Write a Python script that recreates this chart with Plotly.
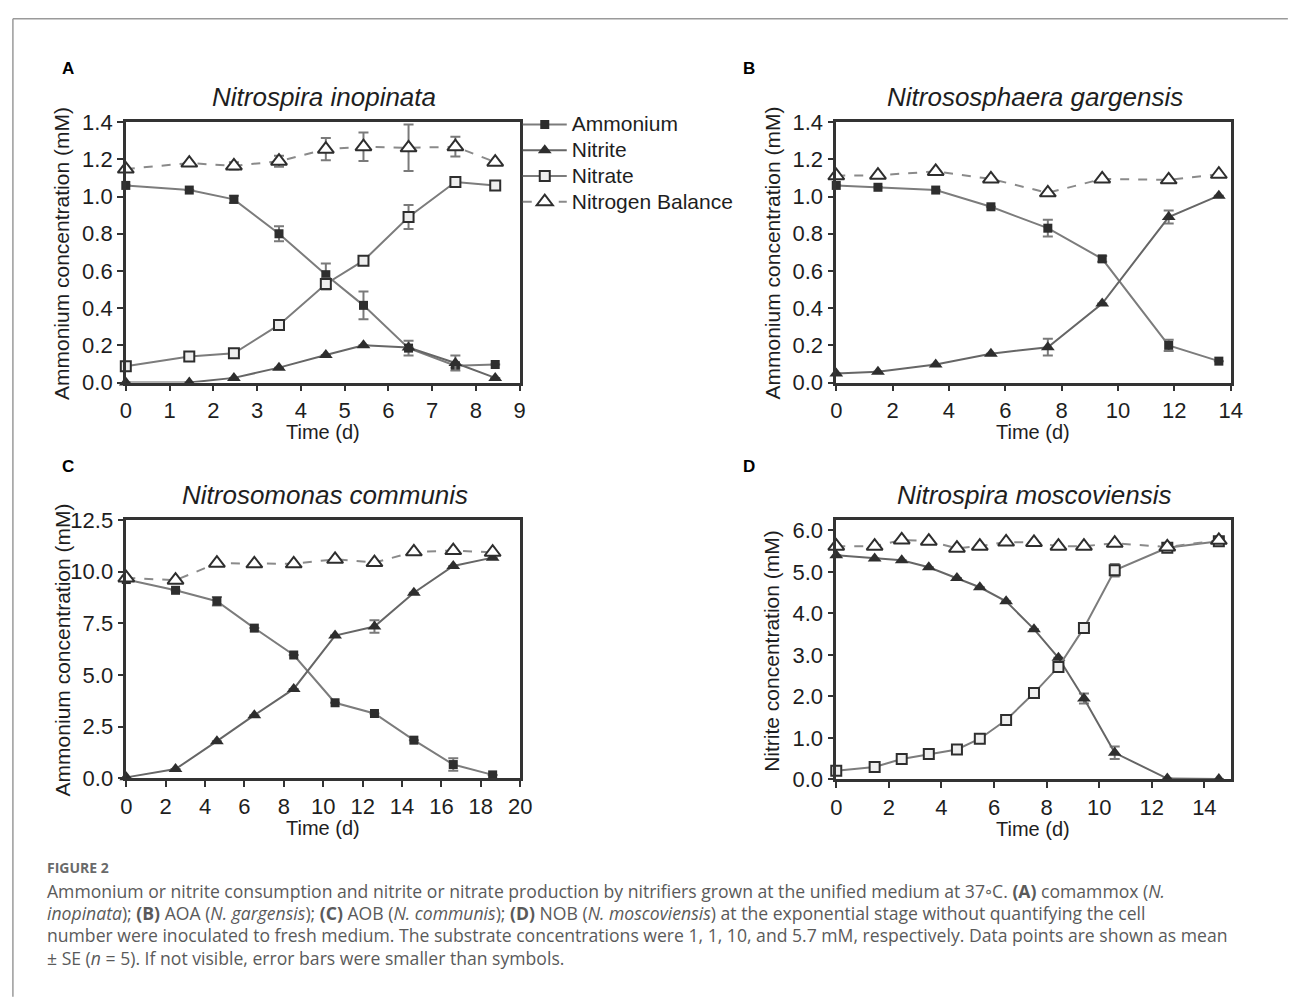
import plotly.graph_objects as go

W, H = 1290, 1003

# ---------------- data ----------------
# Panel A: Nitrospira inopinata (comammox)
tA = [0, 1.45, 2.47, 3.5, 4.57, 5.43, 6.46, 7.53, 8.44]
ammA = [1.06, 1.035, 0.985, 0.80, 0.58, 0.415, 0.185, 0.09, 0.097]
ammA_err = [0, 0, 0.02, 0.04, 0.06, 0.075, 0.04, 0.01, 0]
nitA = [0.0, 0.0, 0.025, 0.08, 0.148, 0.20, 0.188, 0.105, 0.025]
nitA_err = [0, 0, 0, 0, 0, 0, 0, 0.04, 0]
noxA = [0.088, 0.14, 0.157, 0.31, 0.53, 0.655, 0.89, 1.078, 1.06]
noxA_err = [0, 0, 0, 0, 0.03, 0.02, 0.065, 0.02, 0]
balA = [1.148, 1.18, 1.165, 1.19, 1.255, 1.268, 1.262, 1.268, 1.185]
balA_err = [0, 0, 0.02, 0.03, 0.06, 0.077, 0.125, 0.053, 0]

# Panel B: Nitrososphaera gargensis (AOA)
tB = [0, 1.48, 3.53, 5.49, 7.51, 9.44, 11.8, 13.58]
ammB = [1.06, 1.05, 1.035, 0.945, 0.83, 0.665, 0.20, 0.115]
ammB_err = [0, 0, 0, 0, 0.045, 0.015, 0.03, 0]
nitB = [0.048, 0.058, 0.097, 0.155, 0.19, 0.425, 0.89, 1.005]
nitB_err = [0, 0, 0, 0, 0.045, 0, 0.035, 0]
balB = [1.112, 1.115, 1.135, 1.095, 1.02, 1.095, 1.09, 1.12]
balB_err = [0, 0, 0, 0, 0, 0, 0, 0]

# Panel C: Nitrosomonas communis (AOB)
tC = [0, 2.5, 4.6, 6.5, 8.5, 10.6, 12.6, 14.6, 16.6, 18.6]
ammC = [9.62, 9.1, 8.57, 7.27, 5.97, 3.66, 3.14, 1.85, 0.67, 0.17]
ammC_err = [0, 0, 0.2, 0, 0, 0, 0, 0, 0.3, 0]
nitC = [0.05, 0.45, 1.8, 3.06, 4.33, 6.91, 7.35, 8.98, 10.28, 10.68]
nitC_err = [0, 0, 0, 0, 0, 0, 0.3, 0, 0, 0]
balC = [9.7, 9.59, 10.41, 10.38, 10.38, 10.6, 10.44, 10.96, 11.02, 10.94]
balC_err = [0, 0, 0, 0, 0, 0, 0, 0, 0, 0]

# Panel D: Nitrospira moscoviensis (NOB)
tD = [0, 1.46, 2.49, 3.52, 4.59, 5.46, 6.46, 7.52, 8.45, 9.42, 10.59, 12.59, 14.55]
nitD = [5.4, 5.32, 5.28, 5.11, 4.85, 4.63, 4.29, 3.62, 2.93, 1.95, 0.64, 0.02, 0.01]
nitD_err = [0, 0, 0, 0, 0, 0, 0, 0, 0, 0.12, 0.15, 0, 0]
noxD = [0.21, 0.3, 0.49, 0.61, 0.72, 0.98, 1.43, 2.08, 2.71, 3.65, 5.04, 5.58, 5.74]
noxD_err = [0, 0, 0, 0, 0, 0, 0, 0, 0, 0, 0.15, 0, 0]
balD = [5.62, 5.62, 5.77, 5.74, 5.57, 5.62, 5.72, 5.71, 5.62, 5.62, 5.69, 5.6, 5.76]
balD_err = [0] * 13

series_names = ["Ammonium", "Nitrite", "Nitrate", "Nitrogen Balance"]
panel_titles = ["Nitrospira inopinata", "Nitrososphaera gargensis",
                "Nitrosomonas communis", "Nitrospira moscoviensis"]
panel_letters = ["A", "B", "C", "D"]
y_titles = ["Ammonium concentration (mM)", "Ammonium concentration (mM)",
            "Ammonium concentration (mM)", "Nitrite concentration (mM)"]
x_title = "Time (d)"

# ---------------- styling ----------------
LINE = "#7c7c7c"
MK = "#2e2e2e"
AX = "#333333"
TXT = "#1e1e1e"
FONT = "Liberation Sans, Arial, Helvetica, sans-serif"

styles = {
    "Ammonium": dict(line=dict(color=LINE, width=2),
                     marker=dict(symbol="square", size=9, color=MK)),
    "Nitrite": dict(line=dict(color="#666666", width=2),
                    marker=dict(symbol="triangle-up", size=12, color=MK)),
    "Nitrate": dict(line=dict(color=LINE, width=2),
                    marker=dict(symbol="square", size=10, color="#eeeeee",
                                line=dict(color=MK, width=2))),
    "Nitrogen Balance": dict(line=dict(color="#8a8a8a", width=2, dash="dash"),
                             marker=dict(symbol="triangle-up", size=14, color="white",
                                         line=dict(color=MK, width=2))),
}


def px(x):
    return x / W


def py(y):
    return 1 - y / H


panels = [
    dict(series=[("Ammonium", tA, ammA, ammA_err), ("Nitrite", tA, nitA, nitA_err),
                 ("Nitrate", tA, noxA, noxA_err), ("Nitrogen Balance", tA, balA, balA_err)],
         dx=(121.5, 521), dy=(113, 380), xr=[0, 9], xdt=1, yr=[0, 1.4], ydt=0.2,
         legend=True, letter_x=63),
    dict(series=[("Ammonium", tB, ammB, ammB_err), ("Nitrite", tB, nitB, nitB_err),
                 ("Nitrogen Balance", tB, balB, balB_err)],
         dx=(842, 1242), dy=(113, 380), xr=[0, 14], xdt=2, yr=[0, 1.4], ydt=0.2,
         legend=False, letter_x=754),
    dict(series=[("Ammonium", tC, ammC, ammC_err), ("Nitrite", tC, nitC, nitC_err),
                 ("Nitrogen Balance", tC, balC, balC_err)],
         dx=(122, 521.5), dy=(521, 786), xr=[0, 20], xdt=2, yr=[0, 12.5], ydt=2.5,
         legend=False, letter_x=63),
    dict(series=[("Nitrite", tD, nitD, nitD_err), ("Nitrate", tD, noxD, noxD_err),
                 ("Nitrogen Balance", tD, balD, balD_err)],
         dx=(842, 1242), dy=(521, 787), xr=[0, 15], xdt=2, yr=[0, 6.25], ydt=1.0,
         legend=False, xmax_tick=14, letter_x=754),
]

fig = go.Figure()
annotations = []
layout_axes = {}
rank = {"Ammonium": 1, "Nitrite": 2, "Nitrate": 3, "Nitrogen Balance": 4}

for i, p in enumerate(panels):
    k = "" if i == 0 else str(i + 1)
    xa, ya = "x" + k, "y" + k
    for name, t, y, e in p["series"]:
        st = styles[name]
        fig.add_trace(go.Scatter(
            x=t, y=y, mode="lines+markers",
            name='<span style="font-size:21px">' + name + '</span>',
            line=st["line"], marker=st["marker"],
            error_y=dict(type="data", array=e, visible=True, color="#7a7a7a",
                         thickness=2, width=5),
            xaxis=xa, yaxis=ya, cliponaxis=False,
            showlegend=p["legend"], legendrank=rank[name],
        ))
    ax_common = dict(showline=True, mirror=True, linecolor=AX, linewidth=2.5,
                     ticks="outside", ticklen=6, tickwidth=2, tickcolor=AX,
                     showgrid=False, zeroline=False,
                     tickfont=dict(family=FONT, size=22, color=TXT))
    xmax_tick = p.get("xmax_tick", p["xr"][1])
    layout_axes["xaxis" + k] = dict(
        ax_common, domain=[px(p["dx"][0]), px(p["dx"][1])], range=p["xr"],
        tickmode="linear", tick0=0, dtick=p["xdt"], anchor=ya,
    )
    if xmax_tick != p["xr"][1]:
        vals = list(range(0, xmax_tick + 1, p["xdt"]))
        layout_axes["xaxis" + k].update(tickmode="array", tickvals=vals,
                                        ticktext=[str(v) for v in vals])
    layout_axes["yaxis" + k] = dict(
        ax_common, domain=[py(p["dy"][1]), py(p["dy"][0])], range=p["yr"],
        tickmode="linear", tick0=0, dtick=p["ydt"], tickformat=".1f", anchor=xa,
    )
    cx = (p["dx"][0] + p["dx"][1]) / 2
    cy = (p["dy"][0] + p["dy"][1]) / 2
    annotations.append(dict(text="<i>" + panel_titles[i] + "</i>", x=px(cx + 1.5),
                            y=py(p["dy"][0] - 26), xref="paper", yref="paper",
                            showarrow=False, xanchor="center", yanchor="middle",
                            font=dict(family=FONT, size=26, color=TXT)))
    annotations.append(dict(text="<b>" + panel_letters[i] + "</b>",
                            x=px(p["letter_x"]), y=py(p["dy"][0] - 55),
                            xref="paper", yref="paper", showarrow=False,
                            xanchor="center", yanchor="middle",
                            font=dict(family=FONT, size=17, color="#000")))
    annotations.append(dict(text=y_titles[i], x=px(p["dx"][0] - 65), y=py(cy + 1),
                            xref="paper", yref="paper", showarrow=False,
                            textangle=-90, xanchor="center", yanchor="middle",
                            font=dict(family=FONT, size=21, color=TXT)))
    annotations.append(dict(text=x_title, x=px(cx), y=py(p["dy"][1] + 51),
                            xref="paper", yref="paper", showarrow=False,
                            xanchor="center", yanchor="middle",
                            font=dict(family=FONT, size=20, color=TXT)))

# caption
CAP_FONT = "Open Sans, Lato, sans-serif"
caption_head = "FIGURE 2"
caption_lines = [
    "Ammonium or nitrite consumption and nitrite or nitrate production by nitrifiers grown at the unified medium at 37◦C. <b>(A)</b> comammox (<i>N.</i>",
    "<i>inopinata</i>); <b>(B)</b> AOA (<i>N. gargensis</i>); <b>(C)</b> AOB (<i>N. communis</i>); <b>(D)</b> NOB (<i>N. moscoviensis</i>) at the exponential stage without quantifying the cell",
    "number were inoculated to fresh medium. The substrate concentrations were 1, 1, 10, and 5.7 mM, respectively. Data points are shown as mean",
    "± SE (<i>n</i> = 5). If not visible, error bars were smaller than symbols.",
]
annotations.append(dict(text="<b>" + caption_head + "</b>", x=px(40), y=py(877),
                        xref="paper", yref="paper", showarrow=False,
                        xanchor="left", yanchor="middle",
                        font=dict(family=CAP_FONT, size=14, color="#6a6a6a")))
for j, line in enumerate(caption_lines):
    annotations.append(dict(text=line, x=px(40), y=py(901 + 23 * j),
                            xref="paper", yref="paper", showarrow=False,
                            xanchor="left", yanchor="middle",
                            font=dict(family=CAP_FONT, size=17.6, color="#5a5a5a")))

shapes = [
    dict(type="line", xref="paper", yref="paper", x0=px(7), y0=py(7), x1=px(1300), y1=py(7),
         line=dict(color="#9a9a9a", width=1.5)),
    dict(type="line", xref="paper", yref="paper", x0=px(7), y0=py(7), x1=px(7), y1=py(1010),
         line=dict(color="#9a9a9a", width=1.5)),
]

fig.update_layout(
    width=W, height=H, margin=dict(l=0, r=0, t=0, b=0),
    paper_bgcolor="white", plot_bgcolor="white",
    font=dict(family=FONT, color=TXT),
    annotations=annotations, shapes=shapes,
    legend=dict(x=px(519), y=py(97), xanchor="left", yanchor="top",
                font=dict(family=FONT, size=17.5, color=TXT),
                bgcolor="rgba(0,0,0,0)", itemwidth=44, tracegroupgap=0),
    **layout_axes,
)

fig.write_html(
    "out.html",
    post_script="document.body.style.margin='0';document.body.style.overflow='hidden';",
)
